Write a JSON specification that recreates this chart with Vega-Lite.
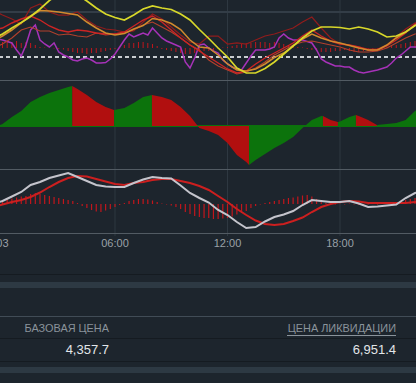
{
  "$schema": "https://vega.github.io/schema/vega-lite/v6.json",
  "width": 416,
  "height": 383,
  "padding": 0,
  "autosize": {"type": "none"},
  "background": "#1d252d",
  "config": {
    "view": {"stroke": null},
    "axis": {"disable": true},
    "legend": {"disable": true},
    "text": {"font": "Liberation Sans"}
  },
  "datasets": {
    "top": [
      {"t": -0.5, "yellow": 41, "orange": 39, "red1": 70, "red2": 50, "red3": 32},
      {"t": 0, "yellow": 46, "orange": 44, "red1": 65, "red2": 52, "red3": 36},
      {"t": 0.5, "yellow": 52, "orange": 50, "red1": 61, "red2": 57, "red3": 42},
      {"t": 1, "yellow": 57.5, "orange": 57, "red1": 56, "red2": 61, "red3": 50},
      {"t": 1.5, "yellow": 63.5, "orange": 64, "red1": 72, "red2": 64, "red3": 53},
      {"t": 2, "yellow": 71, "orange": 69.5, "red1": 76, "red2": 60, "red3": 49},
      {"t": 2.5, "yellow": 79.5, "orange": 69, "red1": 68, "red2": 54, "red3": 49},
      {"t": 3, "yellow": 86, "orange": 68, "red1": 65, "red2": 50, "red3": 45},
      {"t": 3.5, "yellow": 90, "orange": 66.5, "red1": 65, "red2": 48, "red3": 46},
      {"t": 4, "yellow": 85, "orange": 65, "red1": 68, "red2": 50, "red3": 44},
      {"t": 4.5, "yellow": 79, "orange": 58, "red1": 60, "red2": 49, "red3": 43},
      {"t": 5, "yellow": 72, "orange": 52, "red1": 54, "red2": 47, "red3": 47},
      {"t": 5.5, "yellow": 66, "orange": 47, "red1": 51, "red2": 46, "red3": 45},
      {"t": 6, "yellow": 62.5, "orange": 45, "red1": 50, "red2": 46, "red3": 46},
      {"t": 6.5, "yellow": 60, "orange": 46.5, "red1": 48, "red2": 48, "red3": 47},
      {"t": 7, "yellow": 65, "orange": 51, "red1": 49, "red2": 54, "red3": 50},
      {"t": 7.5, "yellow": 71, "orange": 54.5, "red1": 58, "red2": 60, "red3": 55},
      {"t": 8, "yellow": 74, "orange": 61.5, "red1": 66, "red2": 64, "red3": 58},
      {"t": 8.5, "yellow": 72, "orange": 60, "red1": 61, "red2": 58, "red3": 53},
      {"t": 9, "yellow": 70.5, "orange": 56.5, "red1": 53, "red2": 50, "red3": 48},
      {"t": 9.5, "yellow": 66, "orange": 50.5, "red1": 45, "red2": 42, "red3": 42},
      {"t": 10, "yellow": 60, "orange": 40, "red1": 38, "red2": 35, "red3": 35},
      {"t": 10.5, "yellow": 50.5, "orange": 33, "red1": 36, "red2": 29, "red3": 30},
      {"t": 11, "yellow": 41.5, "orange": 32, "red1": 44, "red2": 23, "red3": 20},
      {"t": 11.5, "yellow": 32, "orange": 25, "red1": 44, "red2": 17, "red3": 14},
      {"t": 12, "yellow": 23, "orange": 16, "red1": 36, "red2": 11, "red3": 10},
      {"t": 12.5, "yellow": 12, "orange": 10, "red1": 37, "red2": 7, "red3": 6},
      {"t": 13, "yellow": 7, "orange": 9, "red1": 36, "red2": 9, "red3": 8},
      {"t": 13.5, "yellow": 7, "orange": 11, "red1": 40, "red2": 16, "red3": 12},
      {"t": 14, "yellow": 11.5, "orange": 16, "red1": 44, "red2": 22, "red3": 18},
      {"t": 14.5, "yellow": 18, "orange": 22.5, "red1": 46, "red2": 27, "red3": 25},
      {"t": 15, "yellow": 26, "orange": 27, "red1": 49, "red2": 32, "red3": 30},
      {"t": 15.5, "yellow": 34, "orange": 34, "red1": 52, "red2": 37, "red3": 35},
      {"t": 16, "yellow": 42, "orange": 41, "red1": 58, "red2": 44, "red3": 38},
      {"t": 16.5, "yellow": 49, "orange": 46, "red1": 63, "red2": 50, "red3": 39},
      {"t": 17, "yellow": 53, "orange": 42, "red1": 52, "red2": 44, "red3": 37},
      {"t": 17.5, "yellow": 53, "orange": 39, "red1": 42, "red2": 39, "red3": 35},
      {"t": 18, "yellow": 52.5, "orange": 37, "red1": 36, "red2": 36, "red3": 33},
      {"t": 18.5, "yellow": 51, "orange": 34.5, "red1": 35, "red2": 35, "red3": 30},
      {"t": 19, "yellow": 53, "orange": 32, "red1": 33, "red2": 33, "red3": 28},
      {"t": 19.5, "yellow": 51, "orange": 30, "red1": 31, "red2": 30, "red3": 28},
      {"t": 20, "yellow": 48, "orange": 30, "red1": 31, "red2": 30, "red3": 29},
      {"t": 20.5, "yellow": 43, "orange": 35, "red1": 35, "red2": 34, "red3": 32},
      {"t": 21, "yellow": 44, "orange": 42, "red1": 43, "red2": 40, "red3": 37},
      {"t": 21.5, "yellow": 48, "orange": 48, "red1": 51, "red2": 47, "red3": 42},
      {"t": 22, "yellow": 54.5, "orange": 54.5, "red1": 57, "red2": 56, "red3": 46},
      {"t": 22.5, "yellow": 58, "orange": 58, "red1": 60, "red2": 59, "red3": 48}
    ],
    "purple": [
      {"t": -0.25, "v": 41}, {"t": 0, "v": 40}, {"t": 0.25, "v": 38.5}, {"t": 0.5, "v": 37},
      {"t": 0.75, "v": 30}, {"t": 1, "v": 24}, {"t": 1.25, "v": 35}, {"t": 1.5, "v": 50},
      {"t": 1.75, "v": 55}, {"t": 2, "v": 40}, {"t": 2.25, "v": 36}, {"t": 2.5, "v": 33},
      {"t": 2.75, "v": 37}, {"t": 3, "v": 28}, {"t": 3.25, "v": 25}, {"t": 3.5, "v": 23},
      {"t": 3.75, "v": 20}, {"t": 4, "v": 19}, {"t": 4.25, "v": 21}, {"t": 4.5, "v": 22},
      {"t": 4.75, "v": 20}, {"t": 5, "v": 17}, {"t": 5.25, "v": 17}, {"t": 5.5, "v": 17.5},
      {"t": 5.75, "v": 21}, {"t": 6, "v": 26}, {"t": 6.25, "v": 33}, {"t": 6.5, "v": 40},
      {"t": 6.75, "v": 46}, {"t": 7, "v": 43}, {"t": 7.25, "v": 45}, {"t": 7.5, "v": 47},
      {"t": 7.75, "v": 45}, {"t": 8, "v": 52}, {"t": 8.25, "v": 47}, {"t": 8.5, "v": 42},
      {"t": 8.75, "v": 39}, {"t": 9, "v": 37}, {"t": 9.25, "v": 35}, {"t": 9.5, "v": 33},
      {"t": 9.75, "v": 18}, {"t": 10, "v": 12}, {"t": 10.25, "v": 22}, {"t": 10.5, "v": 35},
      {"t": 10.75, "v": 36}, {"t": 11, "v": 32}, {"t": 11.25, "v": 29}, {"t": 11.5, "v": 27},
      {"t": 11.75, "v": 20}, {"t": 12, "v": 16}, {"t": 12.25, "v": 13}, {"t": 12.5, "v": 11},
      {"t": 12.75, "v": 10}, {"t": 13, "v": 17}, {"t": 13.25, "v": 24}, {"t": 13.5, "v": 30},
      {"t": 13.75, "v": 30}, {"t": 14, "v": 30}, {"t": 14.25, "v": 31}, {"t": 14.5, "v": 33},
      {"t": 14.75, "v": 42}, {"t": 15, "v": 46}, {"t": 15.25, "v": 42}, {"t": 15.5, "v": 40},
      {"t": 15.75, "v": 40}, {"t": 16, "v": 40}, {"t": 16.25, "v": 38.5}, {"t": 16.5, "v": 37},
      {"t": 16.75, "v": 30}, {"t": 17, "v": 21}, {"t": 17.25, "v": 18}, {"t": 17.5, "v": 16},
      {"t": 17.75, "v": 14}, {"t": 18, "v": 14}, {"t": 18.25, "v": 13}, {"t": 18.5, "v": 13},
      {"t": 18.75, "v": 10}, {"t": 19, "v": 8}, {"t": 19.25, "v": 7}, {"t": 19.5, "v": 8},
      {"t": 19.75, "v": 9}, {"t": 20, "v": 10}, {"t": 20.25, "v": 11.5}, {"t": 20.5, "v": 13},
      {"t": 20.75, "v": 17}, {"t": 21, "v": 22}, {"t": 21.25, "v": 25}, {"t": 21.5, "v": 29},
      {"t": 21.75, "v": 33}, {"t": 22, "v": 33}, {"t": 22.25, "v": 33}
    ],
    "bars": [
      {"t": 0, "top": 6, "macd": 0.3}, {"t": 0.25, "top": 7, "macd": 0.45}, {"t": 0.5, "top": 6, "macd": 0.55}, {"t": 0.75, "top": 7, "macd": 0.65},
      {"t": 1, "top": 5, "macd": 0.75}, {"t": 1.25, "top": 6, "macd": 0.8}, {"t": 1.5, "top": 5, "macd": 1.0}, {"t": 1.75, "top": 3, "macd": 1.1},
      {"t": 2, "top": 1, "macd": 1.0}, {"t": 2.25, "top": 0.5, "macd": 0.9}, {"t": 2.5, "top": 0, "macd": 0.8}, {"t": 2.75, "top": -0.5, "macd": 0.7},
      {"t": 3, "top": -1, "macd": 0.6}, {"t": 3.25, "top": -1.5, "macd": 0.5}, {"t": 3.5, "top": -3, "macd": 0.4}, {"t": 3.75, "top": -4, "macd": 0.3},
      {"t": 4, "top": -5, "macd": 0.1}, {"t": 4.25, "top": -5, "macd": -0.2}, {"t": 4.5, "top": -6, "macd": -0.4}, {"t": 4.75, "top": -5, "macd": -0.6},
      {"t": 5, "top": -5, "macd": -0.75}, {"t": 5.25, "top": -4, "macd": -0.8}, {"t": 5.5, "top": -3, "macd": -0.65}, {"t": 5.75, "top": -2, "macd": -0.5},
      {"t": 6, "top": -1, "macd": -0.3}, {"t": 6.25, "top": 0.5, "macd": -0.1}, {"t": 6.5, "top": 3, "macd": 0.1}, {"t": 6.75, "top": 5, "macd": 0.3},
      {"t": 7, "top": 5, "macd": 0.4}, {"t": 7.25, "top": 6, "macd": 0.5}, {"t": 7.5, "top": 6, "macd": 0.5}, {"t": 7.75, "top": 5, "macd": 0.45},
      {"t": 8, "top": 4, "macd": 0.35}, {"t": 8.25, "top": 2, "macd": 0.2}, {"t": 8.5, "top": -1, "macd": 0.05}, {"t": 8.75, "top": -2, "macd": -0.05},
      {"t": 9, "top": -3, "macd": -0.15}, {"t": 9.25, "top": -4, "macd": -0.3}, {"t": 9.5, "top": -5, "macd": -0.5}, {"t": 9.75, "top": -6, "macd": -0.8},
      {"t": 10, "top": -6, "macd": -1.0}, {"t": 10.25, "top": -5, "macd": -1.2}, {"t": 10.5, "top": -4, "macd": -1.3}, {"t": 10.75, "top": -3, "macd": -1.4},
      {"t": 11, "top": -3, "macd": -1.4}, {"t": 11.25, "top": -2, "macd": -1.5}, {"t": 11.5, "top": -1, "macd": -1.5}, {"t": 11.75, "top": 0.5, "macd": -1.45},
      {"t": 12, "top": 1, "macd": -1.4}, {"t": 12.25, "top": 2, "macd": -1.25}, {"t": 12.5, "top": 3, "macd": -1.05}, {"t": 12.75, "top": 4, "macd": -0.9},
      {"t": 13, "top": 5, "macd": -0.7}, {"t": 13.25, "top": 5, "macd": -0.4}, {"t": 13.5, "top": 6, "macd": -0.2}, {"t": 13.75, "top": 6, "macd": -0.05},
      {"t": 14, "top": 6, "macd": 0.1}, {"t": 14.25, "top": 5, "macd": 0.2}, {"t": 14.5, "top": 6, "macd": 0.3}, {"t": 14.75, "top": 5, "macd": 0.4},
      {"t": 15, "top": 4, "macd": 0.5}, {"t": 15.25, "top": 3, "macd": 0.6}, {"t": 15.5, "top": 2, "macd": 0.65}, {"t": 15.75, "top": 1, "macd": 0.75},
      {"t": 16, "top": 0.5, "macd": 0.85}, {"t": 16.25, "top": -1, "macd": 0.9}, {"t": 16.5, "top": -2, "macd": 0.75}, {"t": 16.75, "top": -3, "macd": 0.5},
      {"t": 17, "top": -4, "macd": 0.3}, {"t": 17.25, "top": -4, "macd": 0.1}, {"t": 17.5, "top": -4, "macd": 0.05}, {"t": 17.75, "top": -3, "macd": -0.05},
      {"t": 18, "top": -3, "macd": 0.05}, {"t": 18.25, "top": -2, "macd": -0.05}, {"t": 18.5, "top": -3, "macd": 0.05}, {"t": 18.75, "top": -4, "macd": -0.05},
      {"t": 19, "top": -4, "macd": -0.1}, {"t": 19.25, "top": -3, "macd": -0.1}, {"t": 19.5, "top": -3, "macd": -0.05}, {"t": 19.75, "top": -2, "macd": 0.05},
      {"t": 20, "top": -2, "macd": -0.05}, {"t": 20.25, "top": -1, "macd": 0.05}, {"t": 20.5, "top": 1, "macd": 0.05}, {"t": 20.75, "top": 2, "macd": 0.05},
      {"t": 21, "top": 3, "macd": 0.1}, {"t": 21.25, "top": 4, "macd": 0.2}, {"t": 21.5, "top": 5, "macd": 0.4}, {"t": 21.75, "top": 6, "macd": 0.5},
      {"t": 22, "top": 7, "macd": 0.6}
    ],
    "osc": [
      {"t": -0.25, "a": 0, "seg": 1, "dir": "up"}, {"t": 0, "a": 0.2, "seg": 1, "dir": "up"}, {"t": 0.5, "a": 0.9, "seg": 1, "dir": "up"},
      {"t": 1, "a": 1.5, "seg": 1, "dir": "up"}, {"t": 1.5, "a": 2.4, "seg": 1, "dir": "up"}, {"t": 2, "a": 2.9, "seg": 1, "dir": "up"},
      {"t": 2.5, "a": 3.3, "seg": 1, "dir": "up"}, {"t": 3, "a": 3.6, "seg": 1, "dir": "up"}, {"t": 3.5, "a": 3.9, "seg": 1, "dir": "up"},
      {"t": 3.72, "a": 4.0, "seg": 1, "dir": "up"},
      {"t": 3.72, "a": 4.0, "seg": 2, "dir": "down"}, {"t": 4, "a": 3.7, "seg": 2, "dir": "down"}, {"t": 4.5, "a": 3.1, "seg": 2, "dir": "down"},
      {"t": 5, "a": 2.4, "seg": 2, "dir": "down"}, {"t": 5.5, "a": 1.9, "seg": 2, "dir": "down"}, {"t": 5.95, "a": 1.6, "seg": 2, "dir": "down"},
      {"t": 5.95, "a": 1.6, "seg": 3, "dir": "up"}, {"t": 6.5, "a": 1.8, "seg": 3, "dir": "up"}, {"t": 7, "a": 2.3, "seg": 3, "dir": "up"},
      {"t": 7.5, "a": 2.9, "seg": 3, "dir": "up"}, {"t": 7.97, "a": 3.1, "seg": 3, "dir": "up"},
      {"t": 7.97, "a": 3.1, "seg": 4, "dir": "down"}, {"t": 8.5, "a": 2.9, "seg": 4, "dir": "down"}, {"t": 9, "a": 2.6, "seg": 4, "dir": "down"},
      {"t": 9.5, "a": 1.9, "seg": 4, "dir": "down"}, {"t": 10, "a": 1.0, "seg": 4, "dir": "down"}, {"t": 10.5, "a": -0.2, "seg": 4, "dir": "down"},
      {"t": 11, "a": -0.5, "seg": 4, "dir": "down"}, {"t": 11.5, "a": -0.9, "seg": 4, "dir": "down"}, {"t": 12, "a": -1.7, "seg": 4, "dir": "down"},
      {"t": 12.5, "a": -2.9, "seg": 4, "dir": "down"}, {"t": 13, "a": -3.6, "seg": 4, "dir": "down"}, {"t": 13.15, "a": -3.9, "seg": 4, "dir": "down"},
      {"t": 13.15, "a": -3.9, "seg": 5, "dir": "up"}, {"t": 13.5, "a": -3.4, "seg": 5, "dir": "up"}, {"t": 14, "a": -2.8, "seg": 5, "dir": "up"},
      {"t": 14.5, "a": -2.2, "seg": 5, "dir": "up"}, {"t": 15, "a": -1.7, "seg": 5, "dir": "up"}, {"t": 15.5, "a": -1.1, "seg": 5, "dir": "up"},
      {"t": 16, "a": -0.2, "seg": 5, "dir": "up"}, {"t": 16.5, "a": 0.6, "seg": 5, "dir": "up"}, {"t": 17, "a": 1.0, "seg": 5, "dir": "up"},
      {"t": 17.09, "a": 1.0, "seg": 5, "dir": "up"},
      {"t": 17.09, "a": 1.0, "seg": 6, "dir": "down"}, {"t": 17.5, "a": 0.6, "seg": 6, "dir": "down"}, {"t": 17.89, "a": 0.4, "seg": 6, "dir": "down"},
      {"t": 17.89, "a": 0.4, "seg": 7, "dir": "up"}, {"t": 18, "a": 0.45, "seg": 7, "dir": "up"}, {"t": 18.5, "a": 0.9, "seg": 7, "dir": "up"},
      {"t": 18.85, "a": 1.1, "seg": 7, "dir": "up"},
      {"t": 18.85, "a": 1.1, "seg": 8, "dir": "down"}, {"t": 19, "a": 1.0, "seg": 8, "dir": "down"}, {"t": 19.5, "a": 0.6, "seg": 8, "dir": "down"},
      {"t": 19.97, "a": 0.1, "seg": 8, "dir": "down"},
      {"t": 19.97, "a": 0.1, "seg": 9, "dir": "up"}, {"t": 20.5, "a": 0.2, "seg": 9, "dir": "up"}, {"t": 21, "a": 0.3, "seg": 9, "dir": "up"},
      {"t": 21.5, "a": 0.6, "seg": 9, "dir": "up"}, {"t": 22, "a": 1.5, "seg": 9, "dir": "up"}, {"t": 22.5, "a": 2.0, "seg": 9, "dir": "up"}
    ],
    "macd": [
      {"t": -0.5, "macd": 0, "signal": -0.3}, {"t": 0, "macd": 0.3, "signal": -0.05}, {"t": 0.5, "macd": 0.75, "signal": 0.2},
      {"t": 1, "macd": 1.2, "signal": 0.4}, {"t": 1.5, "macd": 1.9, "signal": 0.7}, {"t": 2, "macd": 2.2, "signal": 1.15},
      {"t": 2.5, "macd": 2.6, "signal": 1.7}, {"t": 3, "macd": 2.85, "signal": 2.2}, {"t": 3.5, "macd": 3.1, "signal": 2.6},
      {"t": 4, "macd": 2.7, "signal": 2.8}, {"t": 4.5, "macd": 2.3, "signal": 2.75}, {"t": 5, "macd": 1.9, "signal": 2.5},
      {"t": 5.5, "macd": 1.75, "signal": 2.25}, {"t": 6, "macd": 1.7, "signal": 2.0}, {"t": 6.5, "macd": 1.7, "signal": 1.9},
      {"t": 7, "macd": 2.1, "signal": 2.1}, {"t": 7.5, "macd": 2.45, "signal": 2.2}, {"t": 8, "macd": 2.7, "signal": 2.4},
      {"t": 8.5, "macd": 2.6, "signal": 2.5}, {"t": 9, "macd": 2.55, "signal": 2.5}, {"t": 9.5, "macd": 1.85, "signal": 2.3},
      {"t": 10, "macd": 1.1, "signal": 2.1}, {"t": 10.5, "macd": 0.6, "signal": 1.8}, {"t": 11, "macd": 0.15, "signal": 1.4},
      {"t": 11.5, "macd": -0.6, "signal": 0.8}, {"t": 12, "macd": -1.1, "signal": 0.2}, {"t": 12.5, "macd": -1.8, "signal": -0.5},
      {"t": 13, "macd": -2.4, "signal": -1.1}, {"t": 13.5, "macd": -2.3, "signal": -1.65}, {"t": 14, "macd": -1.75, "signal": -2.0},
      {"t": 14.5, "macd": -1.3, "signal": -2.1}, {"t": 15, "macd": -1.05, "signal": -2.0}, {"t": 15.5, "macd": -0.7, "signal": -1.7},
      {"t": 16, "macd": -0.1, "signal": -1.35}, {"t": 16.5, "macd": 0.4, "signal": -0.8}, {"t": 17, "macd": 0.3, "signal": -0.3},
      {"t": 17.5, "macd": 0.2, "signal": 0}, {"t": 18, "macd": 0.2, "signal": 0.2}, {"t": 18.5, "macd": 0.3, "signal": 0.3},
      {"t": 19, "macd": 0.05, "signal": 0.25}, {"t": 19.5, "macd": -0.3, "signal": 0.1}, {"t": 20, "macd": -0.25, "signal": 0.1},
      {"t": 20.5, "macd": -0.15, "signal": 0.1}, {"t": 21, "macd": -0.05, "signal": 0.1}, {"t": 21.5, "macd": 0.6, "signal": 0.1},
      {"t": 22, "macd": 1.1, "signal": 0.2}, {"t": 22.5, "macd": 1.3, "signal": 0.25}
    ],
    "ticks": [
      {"t": 0, "label": "03"}, {"t": 6, "label": "06:00"}, {"t": 12, "label": "12:00"}, {"t": 18, "label": "18:00"}
    ],
    "table": [
      {"col": "base", "kind": "header", "label": "БАЗОВАЯ ЦЕНА"},
      {"col": "liq", "kind": "header", "label": "ЦЕНА ЛИКВИДАЦИИ"},
      {"col": "base", "kind": "value", "label": "4,357.7"},
      {"col": "liq", "kind": "value", "label": "6,951.4"}
    ]
  },
  "resolve": {"scale": {"x": "independent", "y": "independent", "color": "independent", "size": "independent"}},
  "layer": [
    {
      "resolve": {"scale": {"y": "independent", "color": "independent", "strokeWidth": "independent"}},
      "layer": [
        {
          "data": {"name": "ticks"},
          "transform": [{"filter": "datum.t > 0"}],
          "mark": {"type": "rule", "color": "#2e3841", "strokeWidth": 1},
          "encoding": {
            "x": {"field": "t", "type": "quantitative", "scale": {"domain": [-0.1333, 22.0533], "nice": false, "zero": false}},
            "y": {"datum": 20.4, "scale": {"domain": [-2.9, 3.4], "range": [233, 170], "nice": false, "zero": false}},
            "y2": {"datum": -3.2}
          }
        },
        {
          "data": {"name": "top"},
          "mark": {"type": "rule", "color": "#353f48", "strokeWidth": 1},
          "encoding": {
            "y": {"datum": 68, "scale": {"domain": [0, 80], "range": [80, 0], "nice": false, "zero": false}}
          }
        },
        {
          "data": {"name": "bars"},
          "mark": {"type": "rule", "color": "#c2161c", "strokeWidth": 1},
          "encoding": {
            "x": {"field": "t", "type": "quantitative", "scale": {"domain": [-0.1333, 22.0533], "nice": false, "zero": false}},
            "y": {"field": "top", "type": "quantitative", "scale": {"domain": [-32, 48], "range": [80, 0], "nice": false, "zero": false}},
            "y2": {"datum": 0}
          }
        },
        {
          "data": {"name": "top"},
          "mark": {"type": "rule", "color": "#c9cdd1", "strokeWidth": 1, "strokeDash": [4, 3]},
          "encoding": {
            "y": {"datum": 23, "scale": {"domain": [0, 80], "range": [80, 0], "nice": false, "zero": false}}
          }
        },
        {
          "data": {"name": "purple"},
          "mark": {"type": "line", "color": "#a632b8", "strokeWidth": 1.5},
          "encoding": {
            "x": {"field": "t", "type": "quantitative", "scale": {"domain": [-0.1333, 22.0533], "nice": false, "zero": false}},
            "y": {"field": "v", "type": "quantitative", "scale": {"domain": [0, 80], "range": [80, 0], "nice": false, "zero": false}}
          }
        },
        {
          "data": {"name": "top"},
          "transform": [{"fold": ["red3", "red1", "red2", "orange", "yellow"], "as": ["s", "v"]}],
          "mark": {"type": "line"},
          "encoding": {
            "x": {"field": "t", "type": "quantitative", "scale": {"domain": [-0.1333, 22.0533], "nice": false, "zero": false}},
            "y": {"field": "v", "type": "quantitative", "scale": {"domain": [0, 80], "range": [80, 0], "nice": false, "zero": false}},
            "color": {"field": "s", "type": "nominal", "scale": {"domain": ["red3", "red1", "red2", "orange", "yellow"], "range": ["#b3402c", "#901c1c", "#cc2424", "#d08a2e", "#d8d82a"]}},
            "strokeWidth": {"field": "s", "type": "nominal", "scale": {"domain": ["red3", "red1", "red2", "orange", "yellow"], "range": [1.1, 1.7, 1.2, 1.1, 1.1]}},
            "order": {"field": "t", "type": "quantitative"}
          }
        },
        {
          "data": {"name": "top"},
          "mark": {"type": "rule", "color": "#525b63", "strokeWidth": 1},
          "encoding": {
            "y": {"datum": 0, "scale": {"domain": [0, 80], "range": [80.5, 0.5], "nice": false, "zero": false}}
          }
        },
        {
          "data": {"name": "osc"},
          "mark": {"type": "rule", "color": "#0c730c", "strokeWidth": 1},
          "encoding": {
            "y": {"datum": 0, "scale": {"domain": [-4.3, 4.5], "range": [169, 81], "nice": false, "zero": false}}
          }
        },
        {
          "data": {"name": "osc"},
          "mark": {"type": "area", "opacity": 1},
          "encoding": {
            "x": {"field": "t", "type": "quantitative", "scale": {"domain": [-0.1333, 22.0533], "nice": false, "zero": false}},
            "y": {"field": "a", "type": "quantitative", "stack": null, "scale": {"domain": [-4.3, 4.5], "range": [169, 81], "nice": false, "zero": false}},
            "y2": {"datum": 0},
            "color": {"field": "dir", "type": "nominal", "scale": {"domain": ["up", "down"], "range": ["#0c730c", "#b10f0f"]}},
            "detail": {"field": "seg", "type": "nominal"}
          }
        },
        {
          "data": {"name": "osc"},
          "mark": {"type": "rule", "color": "#525b63", "strokeWidth": 1},
          "encoding": {
            "y": {"datum": -4.3, "scale": {"domain": [-4.3, 4.5], "range": [169.5, 81.5], "nice": false, "zero": false}}
          }
        },
        {
          "data": {"name": "bars"},
          "mark": {"type": "rule", "color": "#c2161c", "strokeWidth": 1.2},
          "encoding": {
            "x": {"field": "t", "type": "quantitative", "scale": {"domain": [-0.1333, 22.0533], "nice": false, "zero": false}},
            "y": {"field": "macd", "type": "quantitative", "scale": {"domain": [-2.9, 3.4], "range": [233, 170], "nice": false, "zero": false}},
            "y2": {"datum": 0}
          }
        },
        {
          "data": {"name": "macd"},
          "mark": {"type": "line", "color": "#cc1f1f", "strokeWidth": 2},
          "encoding": {
            "x": {"field": "t", "type": "quantitative", "scale": {"domain": [-0.1333, 22.0533], "nice": false, "zero": false}},
            "y": {"field": "signal", "type": "quantitative", "scale": {"domain": [-2.9, 3.4], "range": [233, 170], "nice": false, "zero": false}}
          }
        },
        {
          "data": {"name": "macd"},
          "mark": {"type": "line", "color": "#c4c4cc", "strokeWidth": 2},
          "encoding": {
            "x": {"field": "t", "type": "quantitative", "scale": {"domain": [-0.1333, 22.0533], "nice": false, "zero": false}},
            "y": {"field": "macd", "type": "quantitative", "scale": {"domain": [-2.9, 3.4], "range": [233, 170], "nice": false, "zero": false}}
          }
        },
        {
          "data": {"name": "macd"},
          "mark": {"type": "rule", "color": "#525b63", "strokeWidth": 1},
          "encoding": {
            "y": {"datum": -2.9, "scale": {"domain": [-2.9, 3.4], "range": [233.5, 170.5], "nice": false, "zero": false}}
          }
        },
        {
          "data": {"name": "ticks"},
          "mark": {"type": "text", "color": "#9aa1a7", "fontSize": 11, "align": "center", "baseline": "middle"},
          "encoding": {
            "x": {"field": "t", "type": "quantitative", "scale": {"domain": [-0.1333, 22.0533], "nice": false, "zero": false}},
            "y": {"datum": -4.0, "scale": {"domain": [-2.9, 3.4], "range": [233, 170], "nice": false, "zero": false}},
            "text": {"field": "label"}
          }
        }
      ]
    },
    {
      "data": {"values": [{}]},
      "mark": {"type": "rule", "color": "#151b21", "strokeWidth": 1},
      "encoding": {"x": {"value": 0}, "x2": {"value": 416}, "y": {"value": 274.5}}
    },
    {
      "data": {"values": [{}]},
      "mark": {"type": "rect", "color": "#2d3943"},
      "encoding": {"x": {"value": 0}, "x2": {"value": 416}, "y": {"value": 282}, "y2": {"value": 288}}
    },
    {
      "data": {"values": [{}]},
      "mark": {"type": "rule", "color": "#414c56", "strokeWidth": 1},
      "encoding": {"x": {"value": 0}, "x2": {"value": 416}, "y": {"value": 316.5}}
    },
    {
      "data": {"values": [{}]},
      "mark": {"type": "rule", "color": "#151b21", "strokeWidth": 1},
      "encoding": {"x": {"value": 0}, "x2": {"value": 416}, "y": {"value": 338.5}}
    },
    {
      "data": {"values": [{}]},
      "mark": {"type": "rule", "color": "#151b21", "strokeWidth": 1},
      "encoding": {"x": {"value": 0}, "x2": {"value": 416}, "y": {"value": 361.5}}
    },
    {
      "data": {"values": [{}]},
      "mark": {"type": "rect", "color": "#2d3943"},
      "encoding": {"x": {"value": 0}, "x2": {"value": 416}, "y": {"value": 367}, "y2": {"value": 373}}
    },
    {
      "data": {"values": [{}]},
      "mark": {"type": "rule", "color": "#8a939b", "strokeWidth": 1},
      "encoding": {"x": {"value": 287}, "x2": {"value": 396}, "y": {"value": 335.5}}
    },
    {
      "data": {"name": "table"},
      "mark": {"type": "text", "align": "right", "baseline": "middle", "font": "Liberation Sans"},
      "encoding": {
        "x": {"field": "col", "type": "nominal", "scale": {"type": "point", "domain": ["base", "liq"], "range": [109, 396], "padding": 0}},
        "y": {"field": "kind", "type": "nominal", "scale": {"type": "point", "domain": ["header", "value"], "range": [329, 349.5], "padding": 0}},
        "text": {"field": "label"},
        "color": {"field": "kind", "type": "nominal", "scale": {"domain": ["header", "value"], "range": ["#8a939b", "#e2e6e9"]}},
        "size": {"field": "kind", "type": "nominal", "scale": {"type": "ordinal", "domain": ["header", "value"], "range": [10.9, 13]}}
      }
    }
  ]
}
